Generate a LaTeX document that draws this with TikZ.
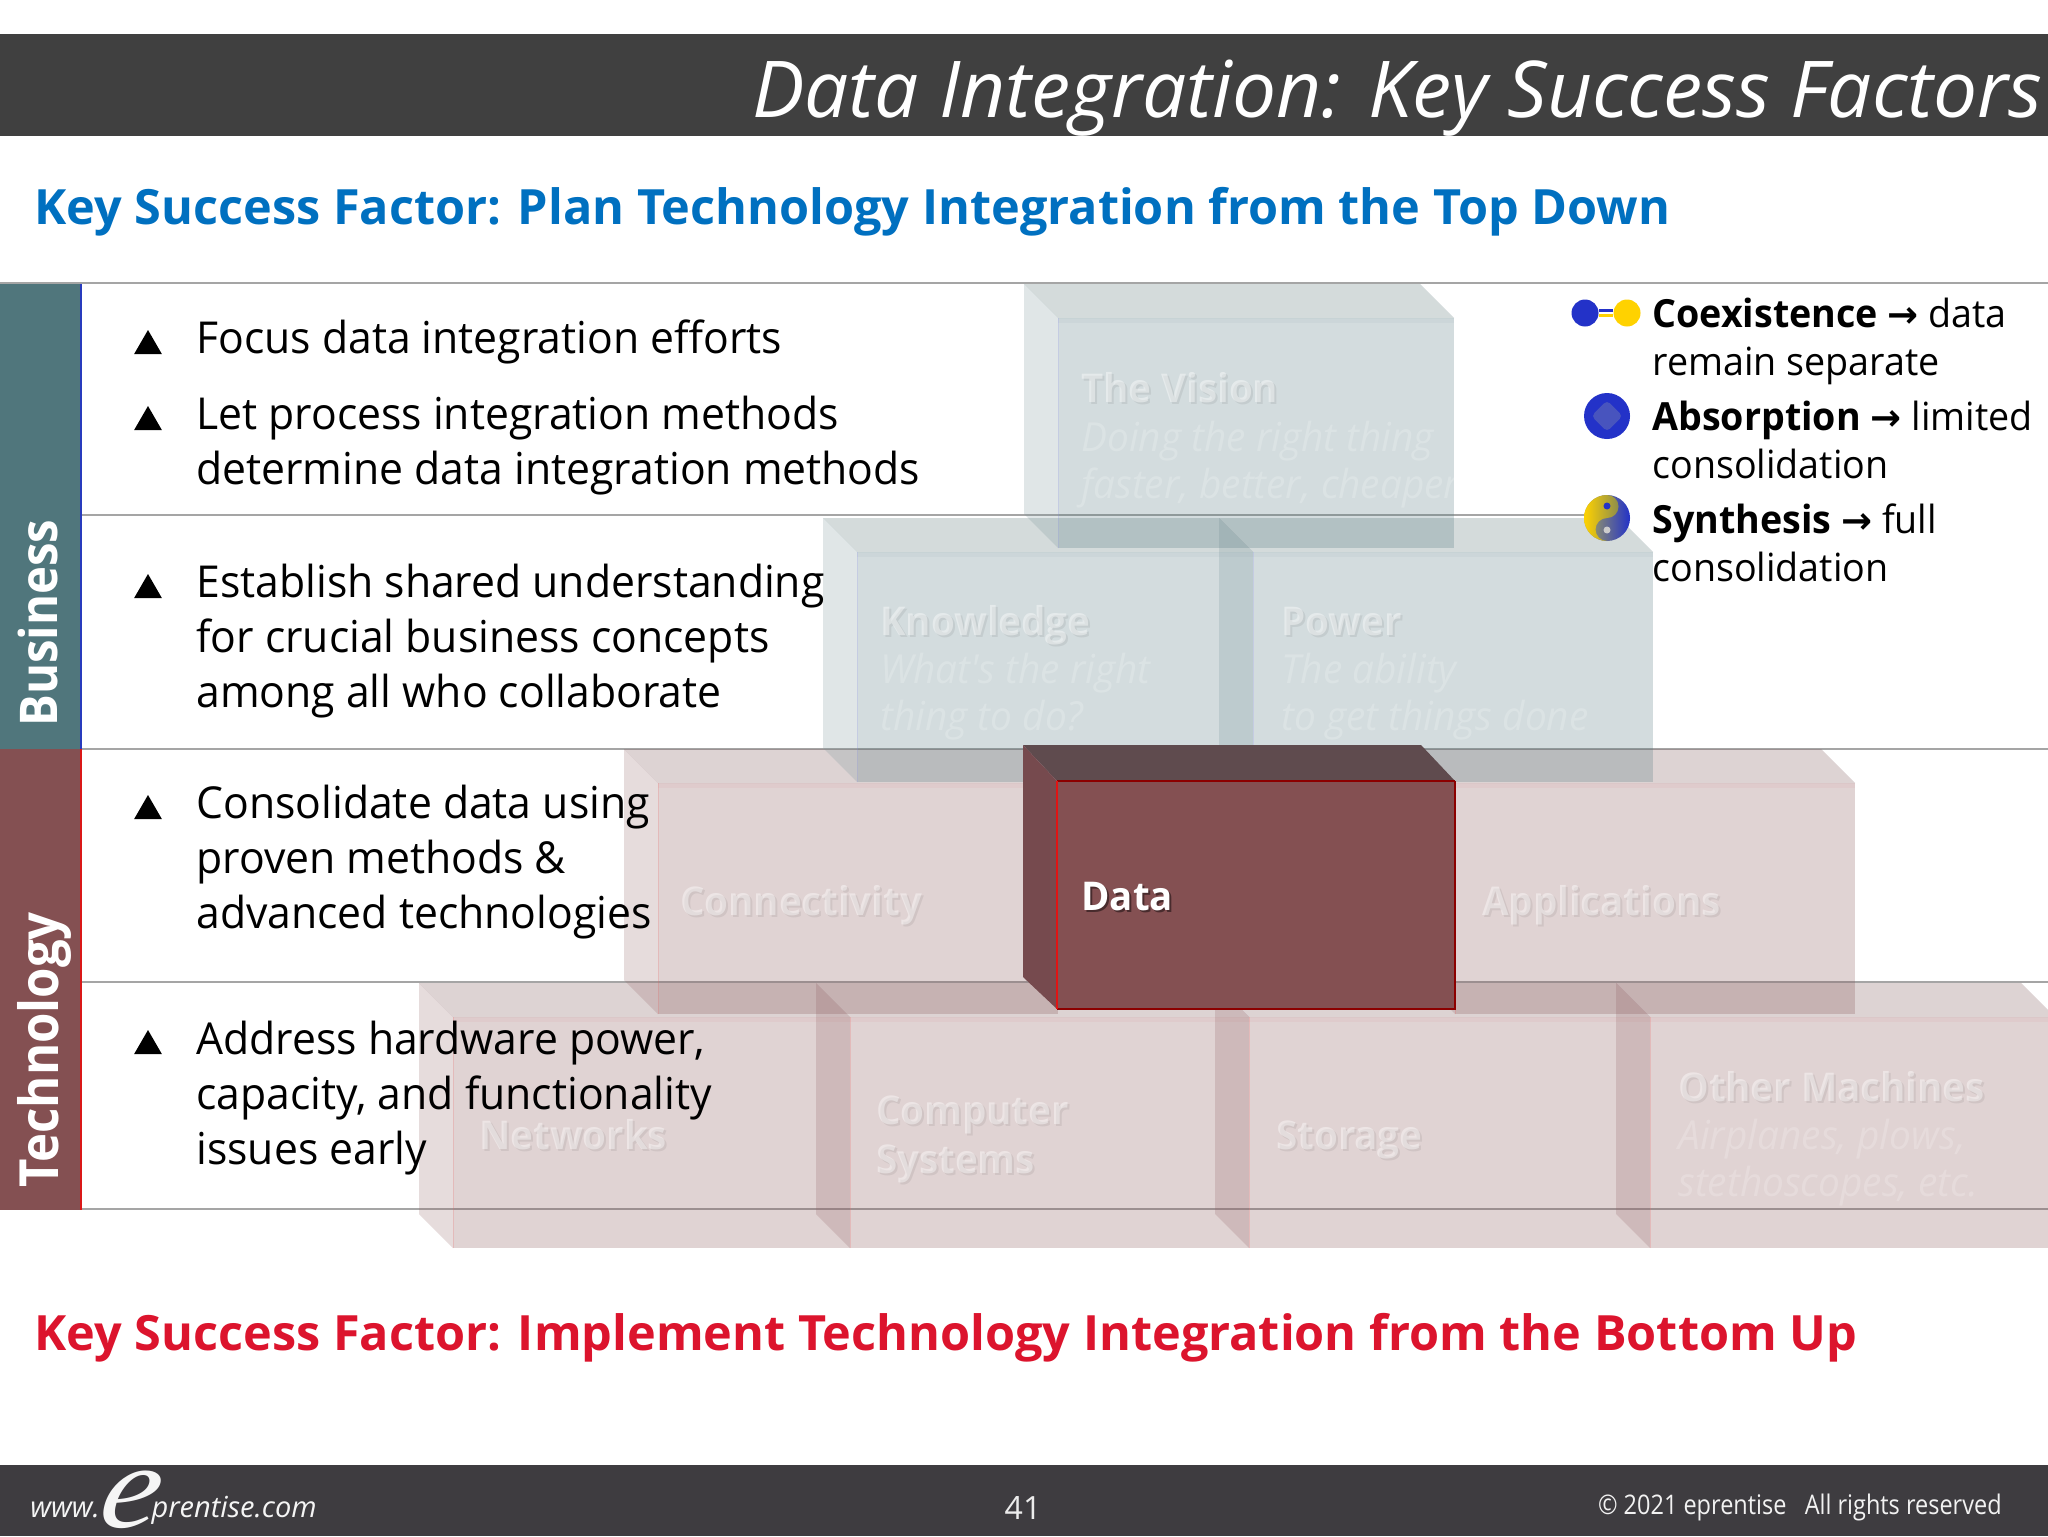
\documentclass[tikz,border=0pt]{standalone}
\usepackage{fontspec}
\usetikzlibrary{shapes.geometric,positioning}
\setmainfont{Open Sans}
\newfontfamily\bodyfont[FakeStretch=0.97]{Open Sans}
\newfontfamily\tabfont[FakeStretch=0.91]{Open Sans}
\newfontfamily\tightfont[FakeStretch=0.87]{Open Sans}
\newfontfamily\signfont{DejaVu Sans}
\newfontfamily\logofont[FakeStretch=1.1,FakeSlant=0.2]{Liberation Serif}

\definecolor{barcolor}{RGB}{64,64,64}
\definecolor{footcolor}{RGB}{62,60,64}
\definecolor{bizcolor}{RGB}{80,118,124}
\definecolor{techcolor}{RGB}{132,80,82}
\definecolor{planblue}{RGB}{0,112,192}
\definecolor{buildred}{RGB}{220,20,45}
\definecolor{rulegray}{RGB}{165,165,165}
\definecolor{mixblue}{RGB}{35,50,200}
\definecolor{mixyellow}{RGB}{255,210,0}

\tikzset{
  rulerow/.style={rulegray,line width=0.9pt},
  bullettext/.style={anchor=north west,inner sep=0pt,align=left,text=black,
    font=\bodyfont\fontsize{22}{27.5}\selectfont,execute at begin node=\strut},
  bulletmark/.style={regular polygon,regular polygon sides=3,fill=black,inner sep=0pt,minimum size=16pt},
  keytext/.style={anchor=north west,inner sep=0pt,align=left,text=black,
    font=\bodyfont\fontsize{19.4}{24}\selectfont,execute at begin node=\strut},
  tabtext/.style={rotate=90,anchor=west,inner sep=0pt,text=white,font=\tabfont\bfseries\fontsize{26}{26}\selectfont},
  ghosthead/.style={anchor=base west,inner sep=0pt,text=white,text opacity=.42,font=\bodyfont\bfseries\fontsize{19.8}{19.8}\selectfont},
  ghostline/.style={anchor=base west,inner sep=0pt,text=white,text opacity=.2,font=\bodyfont\itshape\fontsize{20}{20}\selectfont},
  ghostshade/.style={ghosthead,text=black,text opacity=.07},
  bizblock/.style={fill=bizcolor,fill opacity=.25},
  bizside/.style={fill=bizcolor!80!white,fill opacity=.22},
  biztop/.style={fill=bizcolor!60!gray,fill opacity=.27},
  bizband/.style={fill=bizcolor,fill opacity=.05},
  bizedge/.style={draw=blue!40!white,draw opacity=.2,line width=.5pt},
  techblock/.style={fill=techcolor,fill opacity=.25},
  techside/.style={fill=techcolor!90!white,fill opacity=.22},
  techtop/.style={fill=techcolor!70!gray,fill opacity=.27},
  techband/.style={fill=red!60!techcolor,fill opacity=.04},
  techedge/.style={draw=red!60!white,draw opacity=.2,line width=.5pt},
  keydot/.style={circle,inner sep=0pt,minimum size=13.5pt},
  keyball/.style={circle,inner sep=0pt,minimum size=23pt},
}

% left, top, right, bottom of the front face, and family (biz or tech)
\newcommand{\buildblock}[5]{
  \fill[#5top] (#1,#2) -- ++(-34,-34) -- ++(#3-#1,0) -- (#3,#2) -- cycle;
  \fill[#5side] (#1,#2) -- ++(-34,-34) -- ++(0,#4-#2) -- (#1,#4) -- cycle;
  \fill[#5block] (#1,#2) rectangle (#3,#4);
  \fill[#5band] (#1,#2) rectangle (#3,#2+5);
  \draw[#5edge] (#1,#2) -- (#1,#4);
}
\newcommand{\ghostlabel}[4]{
  \node[ghostshade] at (#2+2,#3+2) {#4};
  \node[ghosthead] (#1) at (#2,#3) {#4};
}
\newcommand{\keyarrow}{{\signfont\bfseries\fontsize{18.5}{18.5}\selectfont→}}

\begin{document}
\begin{tikzpicture}[x=0.5pt,y=-0.5pt]
\useasboundingbox (0,0) rectangle (2048,1536);
\fill[white] (0,0) rectangle (2048,1536);

% bars
\fill[barcolor] (0,34) rectangle (2048,136);
\fill[footcolor] (0,1465) rectangle (2048,1536);
\node[anchor=east,inner sep=0pt,text=white,font=\itshape\fontsize{39.2}{39.2}\selectfont] (title) at (2043,98)
  {Data Integration: Key Success Factors};
\node[anchor=west,inner sep=0pt,text=planblue,font=\bfseries\fontsize{24.3}{24.3}\selectfont] (plan) at (34,212)
  {Key Success Factor: Plan Technology Integration from the Top Down};
\node[anchor=west,inner sep=0pt,text=buildred,font=\bfseries\fontsize{24.3}{24.3}\selectfont] (build) at (34,1338)
  {Key Success Factor: Implement Technology Integration from the Bottom Up};

% rows
\foreach \rowy/\rowend in {283/2048,515/1590,749/2048,982/2048,1209/2048}
  \draw[rulerow] (0,\rowy) -- (\rowend,\rowy);
\fill[bizcolor] (0,284) rectangle (81,749);
\fill[techcolor] (0,749) rectangle (81,1210);
\draw[blue!50!bizcolor,line width=.8pt] (81,284) -- (81,749);
\draw[red!70!techcolor,line width=.8pt] (81,749) -- (81,1210);
\node[tabtext] (business) at (38,727) {Business};
\node[tabtext,font=\tabfont\bfseries\fontsize{27}{27}\selectfont] (technology) at (44,1188) {Technology};

% pyramid
\buildblock{453}{1017}{850}{1248}{tech}
\buildblock{850}{1017}{1249}{1248}{tech}
\buildblock{1249}{1017}{1650}{1248}{tech}
\buildblock{1650}{1017}{2055}{1248}{tech}
\buildblock{658}{783}{1058}{1014}{tech}
\buildblock{1455}{783}{1855}{1014}{tech}
\buildblock{857}{552}{1253}{782}{biz}
\buildblock{1253}{552}{1653}{782}{biz}
\buildblock{1058}{318}{1454}{548}{biz}
% the one block that is lit
\fill[fill={rgb,255:red,95;green,75;blue,78}] (1057,781) -- ++(-34,-36) -- ++(398,0) -- (1455,781) -- cycle;
\fill[fill={rgb,255:red,118;green,74;blue,78}] (1057,781) -- ++(-34,-36) -- ++(0,232) -- (1057,1009) -- cycle;
\fill[techcolor] (1057,781) rectangle (1455,1009);
\draw[red!55!black,line width=.8pt] (1455,781) -- (1455,1009) -- (1057,1009);
\draw[red!55!black,line width=1.2pt] (1057,781) -- (1455,781);
\draw[red!75!techcolor,line width=1.2pt] (1057,781) -- (1057,1009);

\ghostlabel{vision}{1081}{402}{The Vision}
\node[ghostline] (visiona) at (1081,451) {Doing the right thing};
\node[ghostline] (visionb) at (1081,498) {faster, better, cheaper};
\ghostlabel{knowledge}{880}{635}{Knowledge}
\node[ghostline] (knowledgea) at (880,683) {What's the right};
\node[ghostline] (knowledgeb) at (880,730) {thing to do?};
\ghostlabel{power}{1281}{635}{Power}
\node[ghostline] (powera) at (1281,683) {The ability};
\node[ghostline] (powerb) at (1281,730) {to get things done};
\ghostlabel{connectivity}{680}{915}{Connectivity}
\ghostlabel{applications}{1482}{915}{Applications}
\node[ghosthead,text=black,text opacity=.45] at (1083,912) {Data};
\node[ghosthead,text opacity=1] (data) at (1081,910) {Data};
\ghostlabel{networks}{479}{1149}{Networks}
\ghostlabel{computer}{876}{1124}{Computer}
\ghostlabel{systems}{876}{1173}{Systems}
\ghostlabel{storage}{1276}{1149}{Storage}
\ghostlabel{machines}{1678}{1101}{Other Machines}
\node[ghostline] (machinesa) at (1678,1149) {Airplanes, plows,};
\node[ghostline] (machinesb) at (1678,1196) {stethoscopes, etc.};

% points
\node[bulletmark] (marka) at (148,346) {};
\node[bullettext] (pointa) at (196,315) {Focus data integration efforts};
\node[bulletmark] (markb) at (148,422) {};
\node[bullettext] (pointb) at (196,396) {Let process integration methods\\determine data integration methods};
\node[bulletmark] (markc) at (148,590) {};
\node[bullettext] (pointc) at (196,564) {Establish shared understanding\\for crucial business concepts\\among all who collaborate};
\node[bulletmark] (markd) at (148,811) {};
\node[bullettext] (pointd) at (196,785) {Consolidate data using\\proven methods \&\\advanced technologies};
\node[bulletmark] (marke) at (148,1046) {};
\node[bullettext] (pointe) at (196,1021) {Address hardware power,\\capacity, and functionality\\issues early};

% key
\node[keydot,fill=mixblue] (coexblue) at (1585,313) {};
\node[keydot,fill=mixyellow] (coexyellow) at (1627,313) {};
\draw[mixblue,line width=1.2pt] ([yshift=1.2pt]coexblue.east) -- ([yshift=1.2pt]coexyellow.west);
\draw[mixyellow,line width=1.2pt] ([yshift=-1.2pt]coexblue.east) -- ([yshift=-1.2pt]coexyellow.west);
\node[keyball,fill=mixblue] (absorbball) at (1607,416) {};
\node[rectangle,rotate=45,rounded corners=2pt,inner sep=0pt,minimum size=11pt,fill={rgb,255:red,72;green,84;blue,190}] (absorbcore) at (absorbball) {};
\node[keyball,left color=gray!70!yellow,middle color=gray!60!blue,right color=mixblue] (synthball) at (1607,518) {};
\shade[left color=mixyellow,right color=gray!70!yellow!85!black] (1607,495)
  arc[start angle=90,end angle=270,radius=11.5pt]
  arc[start angle=270,end angle=90,radius=5.75pt]
  arc[start angle=-90,end angle=90,radius=5.75pt] -- cycle;
\node[circle,inner sep=0pt,minimum size=3.5pt,fill=mixblue] (synthtop) at (1607,506) {};
\node[circle,inner sep=0pt,minimum size=3.5pt,fill=gray!40!white] (synthlow) at (1607,530) {};
\node[keytext] (keya) at (1652,298) {\textbf{Coexistence} \keyarrow{} data\\remain separate};
\node[keytext] (keyb) at (1652,401) {\textbf{Absorption} \keyarrow{} limited\\consolidation};
\node[keytext] (keyc) at (1652,503) {\textbf{Synthesis} \keyarrow{} full\\consolidation};

% footer
\node[anchor=base west,inner sep=0pt,text=white!92!gray,font=\itshape\fontsize{14.5}{14.5}\selectfont] (logo) at (30,1517)
  {www.\kern-1.5pt\raisebox{-5pt}{\logofont\itshape\fontsize{60}{60}\selectfont e}\kern-2pt prentise.com};
\node[inner sep=0pt,text=white!85!gray,font=\fontsize{16}{16}\selectfont] (page) at (1023,1508) {41};
\node[anchor=east,inner sep=0pt,text=white!90!gray,font=\tightfont\fontsize{13.5}{13.5}\selectfont] (rights) at (2002,1507) {© 2021 eprentise\ \ \ All rights reserved};
\end{tikzpicture}
\end{document}
